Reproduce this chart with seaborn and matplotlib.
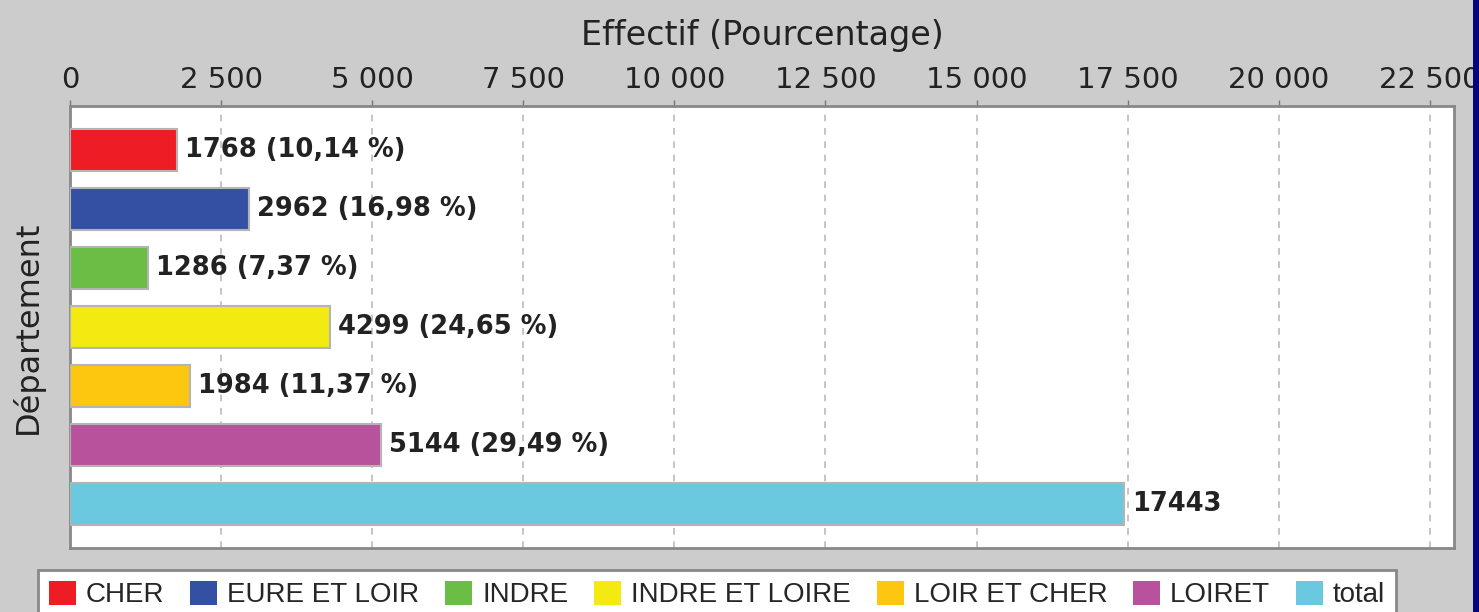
import matplotlib
matplotlib.use('Agg')
import matplotlib.pyplot as plt
import matplotlib.ticker as mticker
from matplotlib.patches import Rectangle
import seaborn as sns
import pandas as pd

# data
departements = ['CHER', 'EURE ET LOIR', 'INDRE', 'INDRE ET LOIRE', 'LOIR ET CHER', 'LOIRET', 'total']
effectifs = [1768, 2962, 1286, 4299, 1984, 5144, 17443]
pourcentages = ['10,14', '16,98', '7,37', '24,65', '11,37', '29,49', None]
couleurs = ['#ee1c25', '#3350a3', '#6abd45', '#f3ea11', '#fdc70f', '#b8529d', '#6ac9de']
x_ticks = [0, 2500, 5000, 7500, 10000, 12500, 15000, 17500, 20000, 22500]

df = pd.DataFrame({'departement': departements, 'effectif': effectifs})

sns.set_style('white')
plt.rcParams['font.family'] = ['DejaVu Sans']

bg = '#cbcccb'
fig = plt.figure(figsize=(14.79, 6.12), dpi=100, facecolor=bg)
ax = fig.add_axes([70 / 1479, 1 - 548 / 612, (1454 - 70) / 1479, (548 - 106) / 612])
ax.set_facecolor('white')

sns.barplot(
    data=df, x='effectif', y='departement', hue='departement', palette=couleurs,
    orient='h', dodge=False, width=0.72, saturation=1, edgecolor='#b4b4b4', linewidth=1.5,
    legend=False, ax=ax, zorder=3,
)

# value labels next to each bar
for i, (val, pct) in enumerate(zip(effectifs, pourcentages)):
    label = f'{val} ({pct} %)' if pct else f'{val}'
    ax.text(val + 130, i, label, va='center', ha='left', fontsize=18.5, fontweight='bold', color='#222222', zorder=4)

ax.set_xlim(0, 22900)
ax.set_ylim(6.75, -0.75)
ax.xaxis.set_ticks_position('top')
ax.xaxis.set_label_position('top')
ax.set_xticks(x_ticks)
ax.xaxis.set_major_formatter(mticker.FuncFormatter(lambda v, p: f'{int(v):,}'.replace(',', ' ')))
ax.tick_params(axis='x', direction='out', length=4, width=1, color='#777777', labelsize=21, labelcolor='#222222', pad=5)
ax.set_yticks([])
ax.grid(axis='x', linestyle=(0, (4, 4)), color='#bbbbbb', linewidth=1.2, zorder=0)
ax.set_xlabel('Effectif (Pourcentage)', fontsize=24, color='#222222', labelpad=15)
ax.set_ylabel('Département', fontsize=23, color='#222222', labelpad=19)
for s in ax.spines.values():
    s.set_color('#888888')
    s.set_linewidth(2)

# legend, bottom cut by the figure edge like the reference
handles = [Rectangle((0, 0), 1, 1, facecolor=c, edgecolor='none') for c in couleurs]
leg = fig.legend(
    handles, departements, loc='upper left', bbox_to_anchor=(38 / 1479, 1 - 570 / 612), ncol=7,
    frameon=True, fancybox=False, prop={'family': 'Liberation Sans', 'size': 20},
    handlelength=0.97, handleheight=0.93, handletextpad=0.36, columnspacing=0.93,
    borderpad=0.4, borderaxespad=0,
)
leg.get_frame().set_edgecolor('#888888')
leg.get_frame().set_linewidth(2)
leg.get_frame().set_facecolor('white')
leg.get_frame().set_alpha(1)

# navy strip on the right edge
fig.patches.append(Rectangle((1473 / 1479, 0), 6 / 1479, 1, transform=fig.transFigure, facecolor='#05057a', edgecolor='none'))

fig.savefig('out.png', dpi=100, facecolor=bg)
